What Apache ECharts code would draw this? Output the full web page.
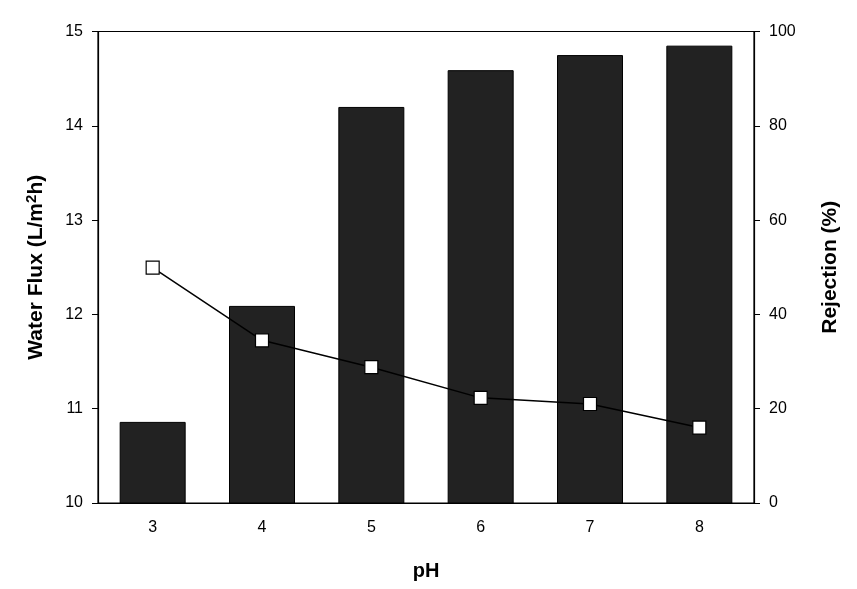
<!DOCTYPE html>
<html><head><meta charset="utf-8">
<script src="https://cdn.jsdelivr.net/npm/echarts@6/dist/echarts.min.js"></script>
<style>html,body{margin:0;padding:0;background:#fff}#c{width:857px;height:589px}</style>
</head><body><div id="c"></div>
<script>
const categories = ['3','4','5','6','7','8'];
const fluxValues = [10.86, 12.09, 14.2, 14.59, 14.75, 14.85];
const rejectionValues = [49.9, 34.5, 28.8, 22.3, 21.0, 16.0];
const leftTicks = {min: 10, max: 15, interval: 1};
const rightTicks = {min: 0, max: 100, interval: 20};

const FONT = '"Liberation Sans", Arial, sans-serif';
const chart = echarts.init(document.getElementById('c'));
chart.setOption({
  animation: false,
  backgroundColor: '#fff',
  grid: {left: 98, right: 103, top: 31.5, bottom: 86, show: true, borderColor: '#000', borderWidth: 1.2, containLabel: false},
  xAxis: {
    type: 'category', data: categories, boundaryGap: true,
    name: 'pH', nameLocation: 'middle', nameGap: 58,
    nameTextStyle: {fontFamily: FONT, fontSize: 20, fontWeight: 'bold', color: '#000'},
    axisLine: {lineStyle: {color: '#000', width: 1.2}},
    axisTick: {alignWithLabel: true, inside: false, length: 6, lineStyle: {color: '#000'}},
    axisLabel: {fontFamily: FONT, fontSize: 16, color: '#000', margin: 17},
    splitLine: {show: false}
  },
  yAxis: [{
    type: 'value', position: 'left', min: leftTicks.min, max: leftTicks.max, interval: leftTicks.interval,
    name: '{a|Water Flux (L/m}{s|2}{a|h)}', nameLocation: 'middle', nameGap: 50, nameRotate: 90,
    nameTextStyle: {rich: {
      a: {fontFamily: FONT, fontSize: 21, fontWeight: 'bold', color: '#000'},
      s: {fontFamily: FONT, fontSize: 15, fontWeight: 'bold', color: '#000', verticalAlign: 'top', padding: [0,0,9,0]}
    }},
    axisLine: {show: true, lineStyle: {color: '#000', width: 1.2}},
    axisTick: {show: true, length: 6, lineStyle: {color: '#000'}},
    axisLabel: {fontFamily: FONT, fontSize: 16, color: '#000', margin: 15},
    splitLine: {show: false}
  }, {
    type: 'value', position: 'right', min: rightTicks.min, max: rightTicks.max, interval: rightTicks.interval,
    name: 'Rejection (%)', nameLocation: 'middle', nameGap: 66, nameRotate: 90,
    nameTextStyle: {fontFamily: FONT, fontSize: 21, fontWeight: 'bold', color: '#000'},
    axisLine: {show: true, lineStyle: {color: '#000', width: 1.2}},
    axisTick: {show: true, length: 6, lineStyle: {color: '#000'}},
    axisLabel: {fontFamily: FONT, fontSize: 16, color: '#000', margin: 15},
    splitLine: {show: false}
  }],
  series: [{
    type: 'bar', yAxisIndex: 0, data: fluxValues, barWidth: 66,
    itemStyle: {color: '#222222', borderColor: '#000', borderWidth: 1}
  }, {
    type: 'line', yAxisIndex: 1, data: rejectionValues,
    symbol: 'rect', symbolSize: 13,
    lineStyle: {color: '#000', width: 1.5},
    itemStyle: {color: '#fff', borderColor: '#000', borderWidth: 1.2}
  }]
});
</script></body></html>
